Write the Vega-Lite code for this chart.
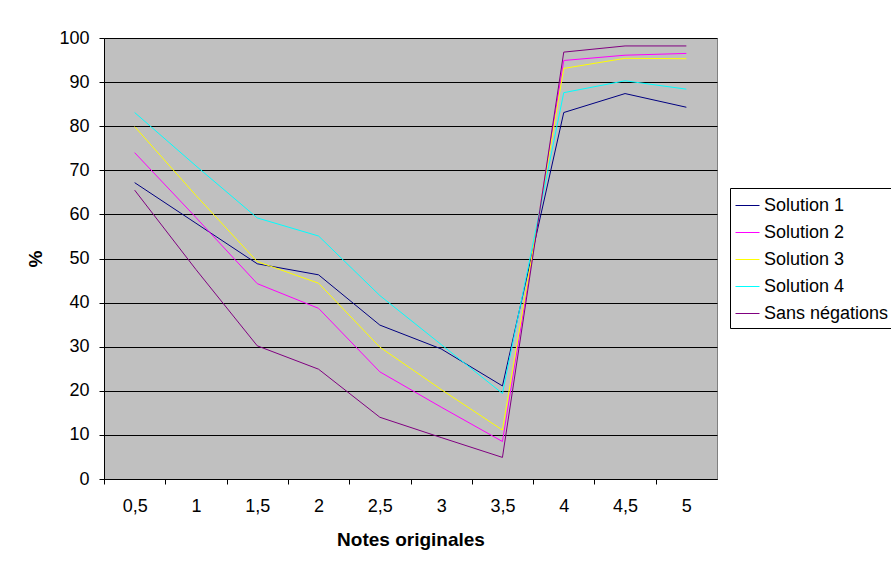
{
  "$schema": "https://vega.github.io/schema/vega-lite/v6.json",
  "autosize": "none",
  "width": 613,
  "height": 441,
  "padding": {"left": 104, "top": 38, "right": 174, "bottom": 82},
  "background": "white",
  "config": {
    "font": "Liberation Sans",
    "view": {"fill": "#C0C0C0", "stroke": "#808080", "strokeWidth": 1}
  },
  "data": {
    "values": [
      {"note": "0,5", "serie": "Solution 1", "value": 67.2},
      {"note": "1", "serie": "Solution 1", "value": 58.0},
      {"note": "1,5", "serie": "Solution 1", "value": 48.8},
      {"note": "2", "serie": "Solution 1", "value": 46.3},
      {"note": "2,5", "serie": "Solution 1", "value": 34.9},
      {"note": "3", "serie": "Solution 1", "value": 29.5},
      {"note": "3,5", "serie": "Solution 1", "value": 21.1},
      {"note": "4", "serie": "Solution 1", "value": 83.1},
      {"note": "4,5", "serie": "Solution 1", "value": 87.4},
      {"note": "5", "serie": "Solution 1", "value": 84.3},
      {"note": "0,5", "serie": "Solution 2", "value": 74.0},
      {"note": "1", "serie": "Solution 2", "value": 59.3},
      {"note": "1,5", "serie": "Solution 2", "value": 44.3},
      {"note": "2", "serie": "Solution 2", "value": 38.7},
      {"note": "2,5", "serie": "Solution 2", "value": 24.3},
      {"note": "3", "serie": "Solution 2", "value": 16.3},
      {"note": "3,5", "serie": "Solution 2", "value": 8.5},
      {"note": "4", "serie": "Solution 2", "value": 94.9},
      {"note": "4,5", "serie": "Solution 2", "value": 96.1},
      {"note": "5", "serie": "Solution 2", "value": 96.5},
      {"note": "0,5", "serie": "Solution 3", "value": 79.9},
      {"note": "1", "serie": "Solution 3", "value": 64.3},
      {"note": "1,5", "serie": "Solution 3", "value": 49.3},
      {"note": "2", "serie": "Solution 3", "value": 44.4},
      {"note": "2,5", "serie": "Solution 3", "value": 29.9},
      {"note": "3", "serie": "Solution 3", "value": 20.3},
      {"note": "3,5", "serie": "Solution 3", "value": 11.1},
      {"note": "4", "serie": "Solution 3", "value": 93.1},
      {"note": "4,5", "serie": "Solution 3", "value": 95.4},
      {"note": "5", "serie": "Solution 3", "value": 95.3},
      {"note": "0,5", "serie": "Solution 4", "value": 83.1},
      {"note": "1", "serie": "Solution 4", "value": 71.0},
      {"note": "1,5", "serie": "Solution 4", "value": 59.2},
      {"note": "2", "serie": "Solution 4", "value": 55.1},
      {"note": "2,5", "serie": "Solution 4", "value": 41.6},
      {"note": "3", "serie": "Solution 4", "value": 30.5},
      {"note": "3,5", "serie": "Solution 4", "value": 19.4},
      {"note": "4", "serie": "Solution 4", "value": 87.6},
      {"note": "4,5", "serie": "Solution 4", "value": 90.3},
      {"note": "5", "serie": "Solution 4", "value": 88.4},
      {"note": "0,5", "serie": "Sans négations", "value": 65.5},
      {"note": "1", "serie": "Sans négations", "value": 47.5},
      {"note": "1,5", "serie": "Sans négations", "value": 30.2},
      {"note": "2", "serie": "Sans négations", "value": 24.9},
      {"note": "2,5", "serie": "Sans négations", "value": 14.0},
      {"note": "3", "serie": "Sans négations", "value": 9.4},
      {"note": "3,5", "serie": "Sans négations", "value": 4.9},
      {"note": "4", "serie": "Sans négations", "value": 96.8},
      {"note": "4,5", "serie": "Sans négations", "value": 98.2},
      {"note": "5", "serie": "Sans négations", "value": 98.2}
    ]
  },
  "mark": {"type": "line", "strokeWidth": 1},
  "encoding": {
    "x": {
      "field": "note",
      "type": "ordinal",
      "sort": ["0,5", "1", "1,5", "2", "2,5", "3", "3,5", "4", "4,5", "5"],
      "scale": {"type": "point", "padding": 0.5},
      "axis": {
        "title": "Notes originales",
        "titleFontSize": 19,
        "titleFontWeight": "bold",
        "titleColor": "black",
        "titlePadding": 15,
        "labelAngle": 0,
        "labelFontSize": 18,
        "labelColor": "black",
        "labelPadding": 13,
        "tickOffset": -30.65,
        "labelOffset": 30.65,
        "tickColor": "black",
        "tickSize": 5,
        "domainColor": "black",
        "grid": false
      }
    },
    "y": {
      "field": "value",
      "type": "quantitative",
      "scale": {"domain": [0, 100], "nice": false},
      "axis": {
        "title": "%",
        "titleFontSize": 19,
        "titleFontWeight": "bold",
        "titleColor": "black",
        "titlePadding": 13,
        "values": [0, 10, 20, 30, 40, 50, 60, 70, 80, 90, 100],
        "labelFontSize": 18,
        "labelColor": "black",
        "labelPadding": 10,
        "tickColor": "black",
        "tickSize": 5,
        "domainColor": "black",
        "grid": true,
        "gridColor": "black",
        "gridOpacity": 1
      }
    },
    "color": {
      "field": "serie",
      "type": "nominal",
      "scale": {
        "domain": ["Solution 1", "Solution 2", "Solution 3", "Solution 4", "Sans négations"],
        "range": ["#000080", "#FF00FF", "#FFFF00", "#00FFFF", "#800080"]
      },
      "legend": {
        "title": null,
        "orient": "none",
        "legendX": 626,
        "legendY": 150,
        "fillColor": "white",
        "strokeColor": "black",
        "padding": 5,
        "symbolType": "stroke",
        "symbolSize": 576,
        "symbolStrokeWidth": 1,
        "labelFontSize": 18,
        "labelColor": "black",
        "labelOffset": 4,
        "rowPadding": 5,
        "labelLimit": 300
      }
    }
  }
}
